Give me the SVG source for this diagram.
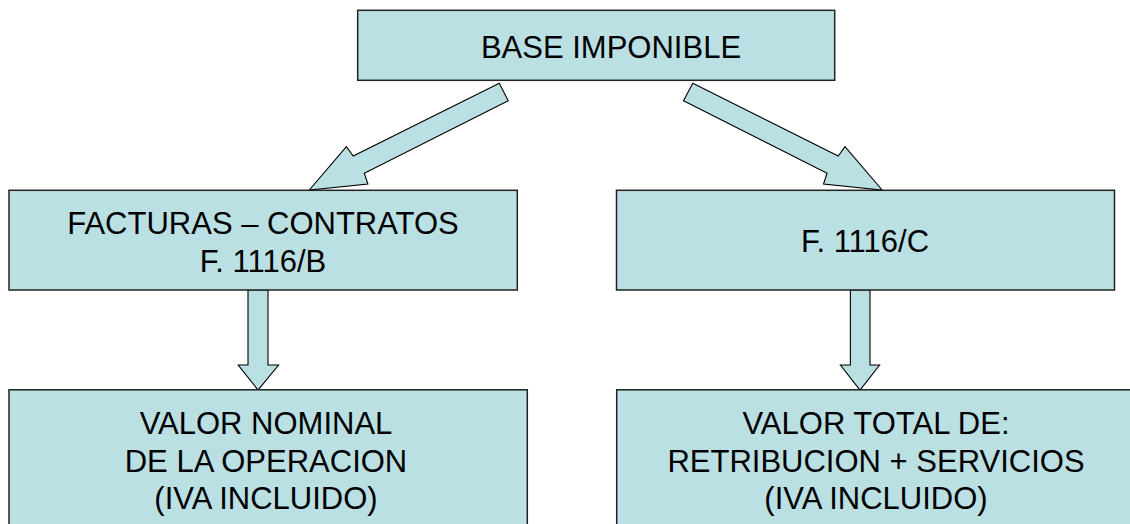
<svg xmlns="http://www.w3.org/2000/svg" width="1130" height="524" viewBox="0 0 1130 524">
<style>
.box{fill:#BBE0E3;stroke:#222;stroke-width:1.5}
.arr{fill:#BBE0E3;stroke:#000;stroke-width:1.1;stroke-linejoin:miter}
text{font-family:"Liberation Sans",Arial,sans-serif;font-size:31px;fill:#000;text-anchor:middle}
</style>
<rect width="1130" height="524" fill="#fff"/>
<g id="connectors">
<polygon class="arr" points="499.3,83.3 508.2,100.7 364.3,173.3 367.9,184 309.3,190 346.4,146.7 353.2,156"/>
<polygon class="arr" points="692.8,83.3 683.5,100.7 827.1,173.3 823.5,184 882.1,190 845,146.7 838.2,156"/>
<polygon class="arr" points="248,290 268,290 268,365 278.6,365 258,390 238.2,365 248,365"/>
<polygon class="arr" points="850.4,290 870,290 870,365 879.6,365 860,390 840.4,365 850.4,365"/>
</g>
<g id="base">
<rect class="box" x="357.7" y="10.3" width="477" height="70"/>
<text x="611" y="57.7">BASE IMPONIBLE</text>
</g>
<g id="facturas">
<rect class="box" x="9" y="190.3" width="508.3" height="99.7"/>
<text x="263" y="234">FACTURAS – CONTRATOS</text>
<text x="263" y="271.7">F. 1116/B</text>
</g>
<g id="f1116c">
<rect class="box" x="616.5" y="190.3" width="498" height="99.7"/>
<text x="865" y="251.7">F. 1116/C</text>
</g>
<g id="valor-nominal">
<rect class="box" x="9" y="389.8" width="518.3" height="145"/>
<text x="266" y="433.5">VALOR NOMINAL</text>
<text x="266" y="472">DE LA OPERACION</text>
<text x="266" y="509">(IVA INCLUIDO)</text>
</g>
<g id="valor-total">
<rect class="box" x="616.7" y="389.8" width="520" height="145"/>
<text x="876" y="433.5">VALOR TOTAL DE:</text>
<text x="876" y="472">RETRIBUCION + SERVICIOS</text>
<text x="876" y="509">(IVA INCLUIDO)</text>
</g>
</svg>
